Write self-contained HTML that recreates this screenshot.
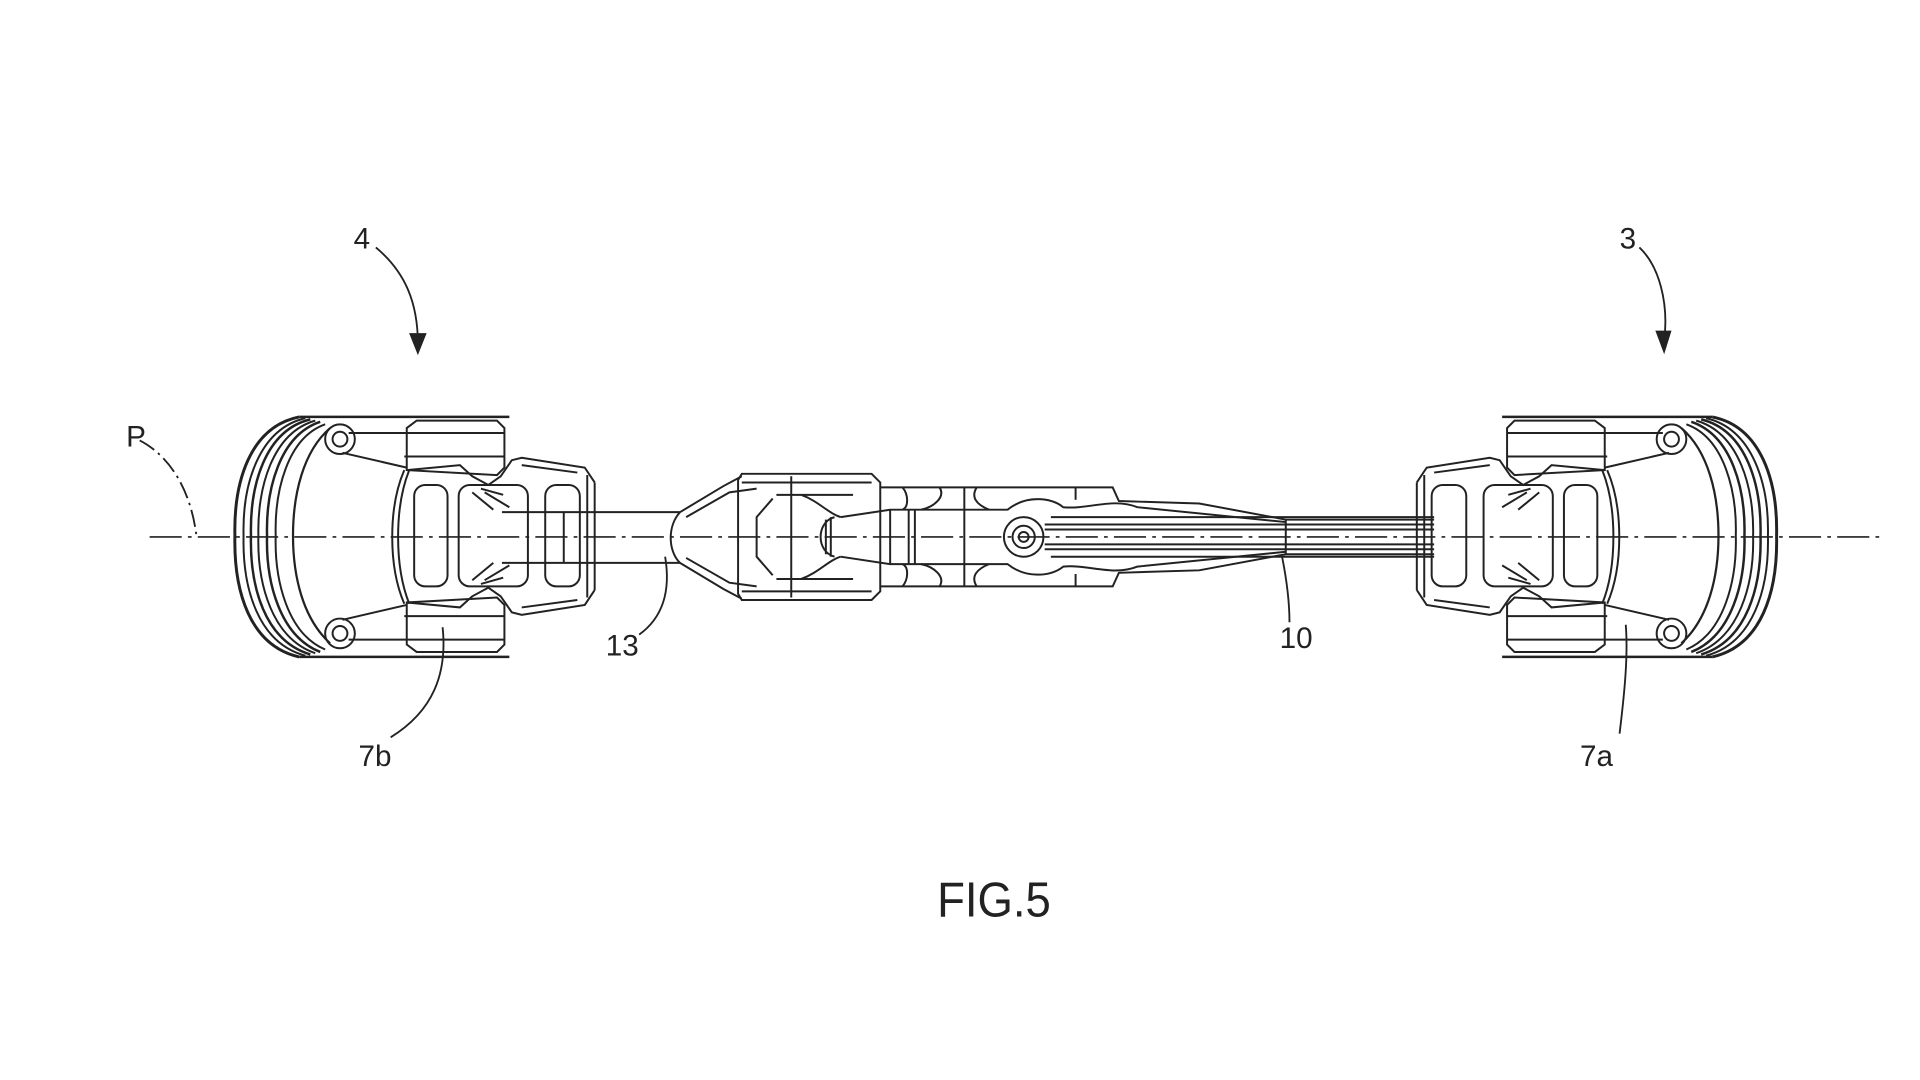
<!DOCTYPE html>
<html><head><meta charset="utf-8"><style>html,body{margin:0;padding:0;background:#fff;}svg{display:block}</style></head>
<body>
<svg width="1920" height="1080" viewBox="0 0 1553 873" preserveAspectRatio="none" xmlns="http://www.w3.org/2000/svg">
<rect width="1553" height="873" fill="#fff"/>
<defs>
<g id="wheel" fill="none" stroke="#222" stroke-width="1.6">
  <!-- tire -->
  <path d="M1385,337 C1425,345 1438,390 1437,433 C1438,478 1425,522 1385,531" stroke-width="2.4"/>
  <path d="M1380,338 C1418,347 1431,392 1430,433 C1431,476 1418,520 1380,530"/>
  <path d="M1376,339 C1413,348 1425,393 1424,433 C1425,474 1413,518 1376,529" stroke-width="2"/>
  <path d="M1372,340 C1407,350 1419,395 1418,433 C1419,472 1407,516 1372,528"/>
  <path d="M1368,341 C1401,352 1412,396 1411,433 C1412,470 1401,514 1368,527" stroke-width="2"/>
  <path d="M1364,343 C1395,354 1405,398 1404,433 C1405,468 1395,512 1364,525"/>
  <path d="M1360,346 C1382,365 1390,400 1390,433 C1390,466 1382,500 1360,520" stroke-width="1.8"/>
  <line x1="1215" y1="337" x2="1385" y2="337" stroke-width="2"/>
  <line x1="1215" y1="531" x2="1385" y2="531" stroke-width="2"/>
  <!-- hub face arc -->
  <path d="M1296,380 C1308,410 1308,458 1296,488"/>
  <path d="M1300,380 C1313,410 1313,458 1300,488"/>
  <!-- upper block -->
  <path d="M1225,340 L1290,340 L1298,346 L1298,380 L1225,384 L1219,378 L1219,346 Z"/>
  <line x1="1219" y1="350" x2="1345" y2="350"/>
  <line x1="1219" y1="369" x2="1300" y2="369"/>
  <!-- lower block -->
  <path d="M1225,527 L1290,527 L1298,521 L1298,487 L1225,483 L1219,489 L1219,521 Z"/>
  <line x1="1219" y1="517" x2="1345" y2="517"/>
  <line x1="1219" y1="498" x2="1300" y2="498"/>
  <!-- link arms to ball joints -->
  <path d="M1298,378 L1350,366"/>
  <path d="M1298,489 L1350,501"/>
  <circle cx="1352" cy="355" r="12"/>
  <circle cx="1352" cy="355" r="6"/>
  <circle cx="1352" cy="512" r="12"/>
  <circle cx="1352" cy="512" r="6"/>
  <!-- wing body -->
  <path d="M1146,390 L1154,378 L1205,370 L1213,372 L1222,385 L1232,392 L1245,385 L1255,376 L1298,380"/>
  <path d="M1146,477 L1154,489 L1205,497 L1213,495 L1222,482 L1232,475 L1245,482 L1255,491 L1298,487"/>
  <line x1="1146" y1="390" x2="1146" y2="477"/>
  <line x1="1152" y1="384" x2="1152" y2="483"/>
  <line x1="1160" y1="382" x2="1205" y2="376"/>
  <line x1="1160" y1="485" x2="1205" y2="491"/>
  <!-- windows -->
  <rect x="1158" y="392" width="28" height="82" rx="9"/>
  <rect x="1200" y="392" width="56" height="82" rx="9"/>
  <rect x="1265" y="392" width="27" height="82" rx="9"/>
  <path d="M1220,400 L1238,395 M1215,410 L1235,398 M1228,412 L1245,398"/>
  <path d="M1220,467 L1238,472 M1215,457 L1235,469 M1228,455 L1245,469"/>
</g>
</defs>

<!-- centerline -->
<line x1="121" y1="434" x2="1525" y2="434" stroke="#222" stroke-width="1.3" stroke-dasharray="26,5,3,5"/>

<use href="#wheel"/>
<use href="#wheel" transform="translate(1627,0) scale(-1,1)"/>

<g fill="none" stroke="#222" stroke-width="1.6">
  <!-- shaft 13 -->
  <line x1="406" y1="414" x2="550" y2="414"/>
  <line x1="406" y1="455" x2="550" y2="455"/>
  <line x1="456" y1="414" x2="456" y2="455"/>
  <!-- fork -->
  <path d="M550,414 L585,393 L600,385"/>
  <path d="M550,455 L585,476 L600,484"/>
  <path d="M550,414 C540,425 540,445 550,455"/>
  <path d="M555,418 L590,398 L612,395 M555,451 L590,471 L612,474"/>
  <!-- housing -->
  <path d="M600,383 L705,383 L712,390 L712,478 L705,485 L600,485 L597,480 L597,388 Z"/>
  <line x1="600" y1="390" x2="705" y2="390"/>
  <line x1="600" y1="478" x2="705" y2="478"/>
  <path d="M628,400 L690,400 M628,468 L690,468"/>
  <path d="M625,403 L612,418 L612,450 L625,465"/>
  <line x1="640" y1="385" x2="640" y2="483"/>
  <path d="M648,400 C662,405 670,415 680,418 M648,468 C662,463 670,453 680,450"/>
  <!-- spline -->
  <path d="M675,418 C660,422 660,446 675,450"/>
  <path d="M668,420 L668,448 M672,418 L672,450"/>
  <!-- mechanism body -->
  <path d="M712,394 L900,394 L905,405 L970,407 L1040,420 L1160,420"/>
  <path d="M712,474 L900,474 L905,463 L970,461 L1040,448 L1160,448"/>
  <path d="M680,418 L720,412 L815,412 C830,400 850,402 860,410 C880,412 900,402 920,410 L1040,422"/>
  <path d="M680,450 L720,456 L815,456 C830,468 850,466 860,458 C880,456 900,466 920,458 L1040,446"/>
  <line x1="720" y1="412" x2="720" y2="456"/>
  <line x1="735" y1="412" x2="735" y2="456"/>
  <line x1="740" y1="412" x2="740" y2="456"/>
  <path d="M730,394 C735,400 735,410 730,412 M760,394 C765,402 755,410 745,412 M790,394 C785,402 790,408 800,412"/>
  <path d="M730,474 C735,468 735,458 730,456 M760,474 C765,466 755,458 745,456 M790,474 C785,466 790,460 800,456"/>
  <line x1="780" y1="394" x2="780" y2="474"/>
  <line x1="870" y1="394" x2="870" y2="404"/>
  <line x1="870" y1="464" x2="870" y2="474"/>
  <!-- pivot -->
  <circle cx="828" cy="434" r="16"/>
  <circle cx="828" cy="434" r="9"/>
  <circle cx="828" cy="434" r="4"/>
  <!-- arm 10 lines -->
  <path d="M845,424 L1160,424 M845,428 L1160,428 M845,440 L1160,440 M845,444 L1160,444 M850,418 L1160,418 M850,450 L1160,450"/>
  <line x1="1040" y1="420" x2="1040" y2="448"/>
</g>

<!-- leaders -->
<g fill="none" stroke="#222" stroke-width="1.5">
  <path d="M304,200 C328,220 338,245 338,278"/>
  <path d="M332,270 L338,285 L344,270 Z" fill="#222"/>
  <path d="M1326,200 C1342,215 1350,245 1346,276"/>
  <path d="M1340,268 L1346,284 L1351,268 Z" fill="#222"/>
  <path d="M113,356 C140,370 155,400 159,434" stroke-dasharray="14,4,2,4"/>
  <path d="M517,513 C535,500 543,480 538,450"/>
  <path d="M316,596 C350,575 362,545 358,507"/>
  <path d="M1043,503 C1043,485 1040,465 1037,450"/>
  <path d="M1310,593 C1314,560 1317,530 1315,505"/>
</g>

<g font-family="Liberation Sans, sans-serif" fill="#222" font-size="24">
  <text x="286" y="201">4</text>
  <text x="1310" y="201">3</text>
  <text x="102" y="361">P</text>
  <text x="490" y="530">13</text>
  <text x="1035" y="524">10</text>
  <text x="290" y="619">7b</text>
  <text x="1278" y="619">7a</text>
  <text x="758" y="741" font-size="40" textLength="92" lengthAdjust="spacingAndGlyphs">FIG.5</text>
</g>
</svg>
</body></html>
